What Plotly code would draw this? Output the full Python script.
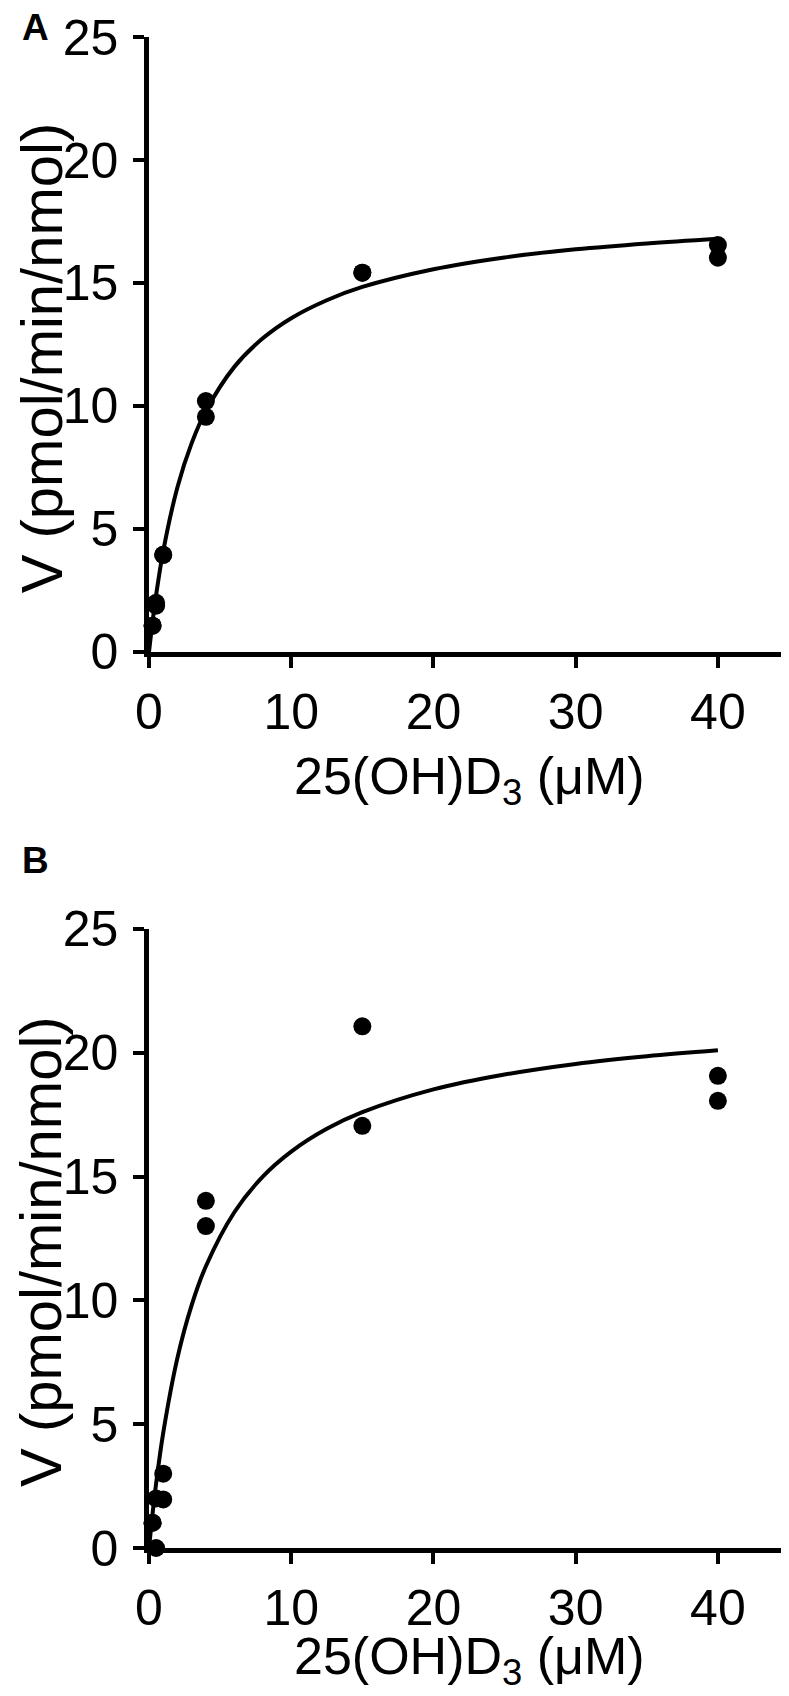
import plotly.graph_objects as go
from plotly.subplots import make_subplots

# Panel A - measured points (25(OH)D3 in uM, V in pmol/min/nmol)
a_x = [0.25, 0.25, 0.5, 0.5, 1, 1, 4, 4, 15, 15, 40, 40]
a_v = [1.07, 1.07, 1.88, 2.0, 3.95, 3.95, 10.2, 9.56, 15.42, 15.42, 16.54, 16.03]

# Panel A - fitted curve
a_fit_x = [0, 0.25, 0.5, 1, 2, 3, 4, 6, 8, 10, 12.5, 15, 20, 25, 30, 35, 40]
a_fit_v = [0, 1.23, 2.31, 4.10, 6.70, 8.49, 9.80, 11.59, 12.75, 13.57, 14.30,
           14.84, 15.56, 16.04, 16.37, 16.61, 16.80]

# Panel B - measured points
b_x = [0.25, 0.25, 0.5, 0.5, 1, 1, 4, 4, 15, 15, 40, 40]
b_v = [1.02, 1.02, 0.0, 2.0, 1.96, 3.0, 14.02, 13.0, 21.07, 17.05, 19.07, 18.06]

# Panel B - fitted curve
b_fit_x = [0, 0.25, 0.5, 1, 2, 3, 4, 6, 8, 10, 12.5, 15, 20, 25, 30, 35, 40]
b_fit_v = [0, 1.38, 2.60, 4.65, 7.68, 9.81, 11.38, 13.56, 15.00, 16.01, 16.93,
           17.60, 18.52, 19.12, 19.55, 19.86, 20.10]

x_ticks = [0, 10, 20, 30, 40]
y_ticks = [0, 5, 10, 15, 20, 25]
panel_labels = ["A", "B"]
x_title = "25(OH)D<sub>3</sub> (\u03bcM)"
y_title = "V (pmol/min/nmol)"

FONT = "Arial, Liberation Sans, sans-serif"

fig = make_subplots(rows=2, cols=1)

panels = [(a_x, a_v, a_fit_x, a_fit_v), (b_x, b_v, b_fit_x, b_fit_v)]
for i, (px_, pv, fx, fv) in enumerate(panels, start=1):
    fig.add_trace(go.Scatter(
        x=fx, y=fv, mode="lines", line=dict(color="black", width=4, shape="spline"),
        cliponaxis=False, showlegend=False
    ), row=i, col=1)
    fig.add_trace(go.Scatter(
        x=px_, y=pv, mode="markers", marker=dict(color="black", size=18),
        cliponaxis=False, showlegend=False
    ), row=i, col=1)

axis_common = dict(
    showline=True, linecolor="black", linewidth=4.5,
    ticks="outside", ticklen=11, tickwidth=4, tickcolor="black",
    showgrid=False, zeroline=False, automargin=False,
    tickfont=dict(family=FONT, size=50, color="black"),
)

for i in (1, 2):
    fig.update_xaxes(range=[0, 45], tickvals=x_ticks, ticklabelstandoff=1,
                     **axis_common, row=i, col=1)
    fig.update_yaxes(range=[0, 25], tickvals=y_ticks, ticklabelstandoff=5,
                     **axis_common, row=i, col=1)

fig.update_layout(
    width=789, height=1696,
    margin=dict(l=141, r=8, t=29, b=156),
    plot_bgcolor="white", paper_bgcolor="white",
    xaxis=dict(domain=[0, 1], anchor="y"),
    yaxis=dict(domain=[0.593, 1.0]),
    xaxis2=dict(domain=[0, 1], anchor="y2"),
    yaxis2=dict(domain=[0.0, 0.4097]),
)

# axis titles placed as paper annotations so they sit where the original has them
for ty in [0.5083, -0.0741]:
    fig.add_annotation(
        text=x_title, xref="paper", yref="paper", x=0.5, y=ty,
        xanchor="center", yanchor="middle", showarrow=False,
        font=dict(family=FONT, size=52, color="black")
    )
for ty in [0.788, 0.1966]:
    fig.add_annotation(
        text=y_title, xref="paper", yref="paper", x=-0.1688, y=ty, textangle=-90,
        xanchor="center", yanchor="middle", showarrow=False,
        font=dict(family=FONT, size=58, color="black")
    )

# panel letters
for label, ypos in zip(panel_labels, [1.006, 0.455]):
    fig.add_annotation(
        text="<b>%s</b>" % label, xref="paper", yref="paper",
        x=-0.177, y=ypos, xanchor="center", yanchor="middle",
        showarrow=False, font=dict(family=FONT, size=37, color="black")
    )

fig.write_html("out.html")
